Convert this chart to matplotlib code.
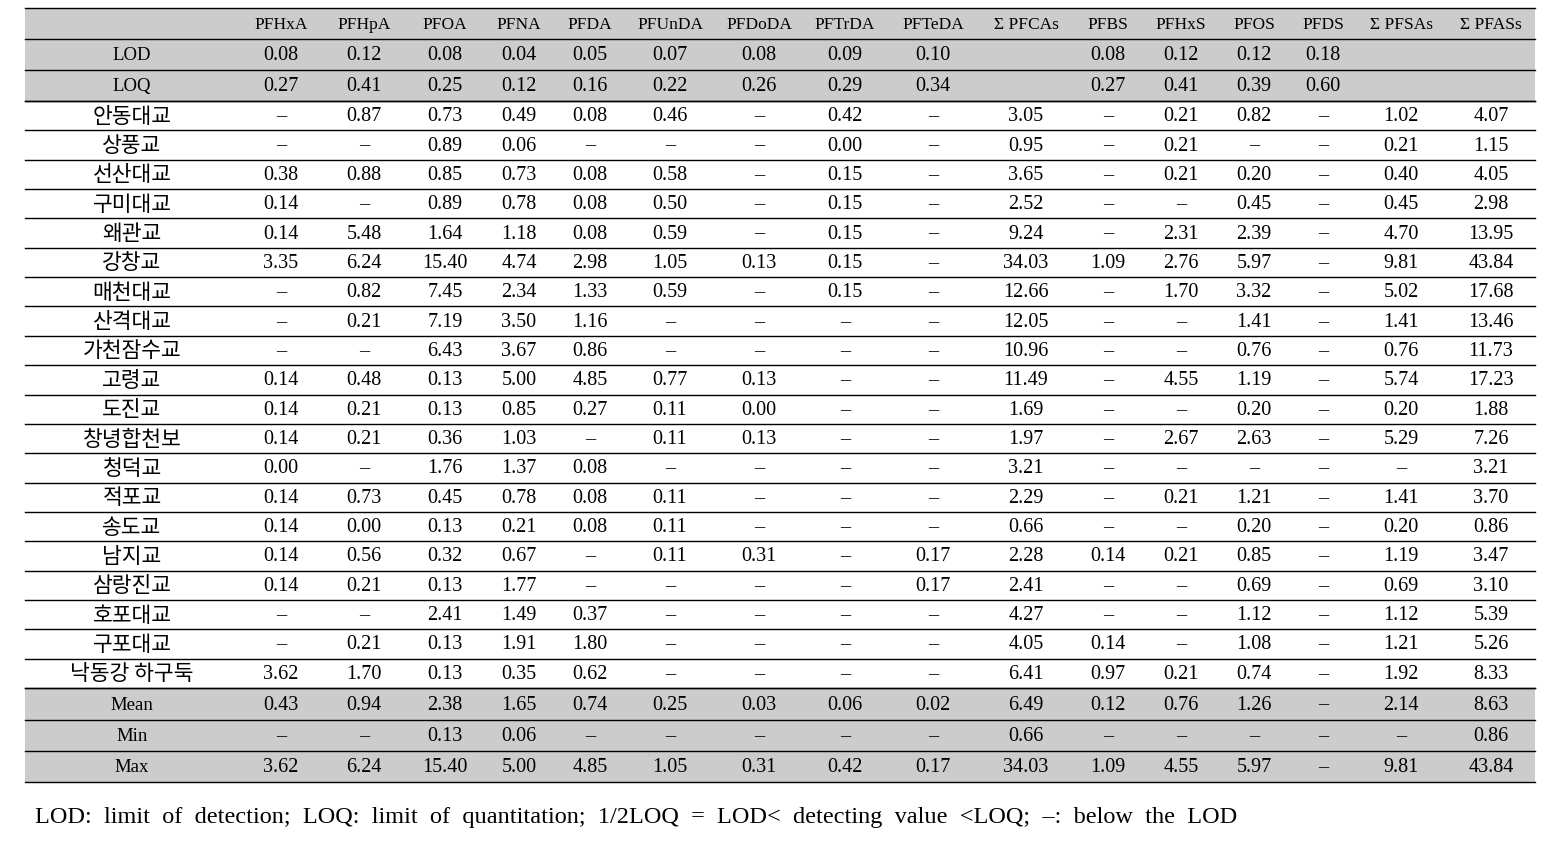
import matplotlib.pyplot as plt

# column headers and row labels
columns = ['PFHxA', 'PFHpA', 'PFOA', 'PFNA', 'PFDA', 'PFUnDA', 'PFDoDA', 'PFTrDA',
           'PFTeDA', 'Σ PFCAs', 'PFBS', 'PFHxS', 'PFOS', 'PFDS', 'Σ PFSAs', 'Σ PFASs']

lod = [0.08, 0.12, 0.08, 0.04, 0.05, 0.07, 0.08, 0.09, 0.10, '', 0.08, 0.12, 0.12, 0.18, '', '']
loq = [0.27, 0.41, 0.25, 0.12, 0.16, 0.22, 0.26, 0.29, 0.34, '', 0.27, 0.41, 0.39, 0.60, '', '']

sites = ['안동대교', '상풍교', '선산대교', '구미대교', '왜관교', '강창교', '매천대교', '산격대교',
         '가천잠수교', '고령교', '도진교', '창녕합천보', '청덕교', '적포교', '송도교', '남지교',
         '삼랑진교', '호포대교', '구포대교', '낙동강 하구둑']

# None = below the LOD
N = None
site_values = [
    [N, 0.87, 0.73, 0.49, 0.08, 0.46, N, 0.42, N, 3.05, N, 0.21, 0.82, N, 1.02, 4.07],
    [N, N, 0.89, 0.06, N, N, N, 0.00, N, 0.95, N, 0.21, N, N, 0.21, 1.15],
    [0.38, 0.88, 0.85, 0.73, 0.08, 0.58, N, 0.15, N, 3.65, N, 0.21, 0.20, N, 0.40, 4.05],
    [0.14, N, 0.89, 0.78, 0.08, 0.50, N, 0.15, N, 2.52, N, N, 0.45, N, 0.45, 2.98],
    [0.14, 5.48, 1.64, 1.18, 0.08, 0.59, N, 0.15, N, 9.24, N, 2.31, 2.39, N, 4.70, 13.95],
    [3.35, 6.24, 15.40, 4.74, 2.98, 1.05, 0.13, 0.15, N, 34.03, 1.09, 2.76, 5.97, N, 9.81, 43.84],
    [N, 0.82, 7.45, 2.34, 1.33, 0.59, N, 0.15, N, 12.66, N, 1.70, 3.32, N, 5.02, 17.68],
    [N, 0.21, 7.19, 3.50, 1.16, N, N, N, N, 12.05, N, N, 1.41, N, 1.41, 13.46],
    [N, N, 6.43, 3.67, 0.86, N, N, N, N, 10.96, N, N, 0.76, N, 0.76, 11.73],
    [0.14, 0.48, 0.13, 5.00, 4.85, 0.77, 0.13, N, N, 11.49, N, 4.55, 1.19, N, 5.74, 17.23],
    [0.14, 0.21, 0.13, 0.85, 0.27, 0.11, 0.00, N, N, 1.69, N, N, 0.20, N, 0.20, 1.88],
    [0.14, 0.21, 0.36, 1.03, N, 0.11, 0.13, N, N, 1.97, N, 2.67, 2.63, N, 5.29, 7.26],
    [0.00, N, 1.76, 1.37, 0.08, N, N, N, N, 3.21, N, N, N, N, N, 3.21],
    [0.14, 0.73, 0.45, 0.78, 0.08, 0.11, N, N, N, 2.29, N, 0.21, 1.21, N, 1.41, 3.70],
    [0.14, 0.00, 0.13, 0.21, 0.08, 0.11, N, N, N, 0.66, N, N, 0.20, N, 0.20, 0.86],
    [0.14, 0.56, 0.32, 0.67, N, 0.11, 0.31, N, 0.17, 2.28, 0.14, 0.21, 0.85, N, 1.19, 3.47],
    [0.14, 0.21, 0.13, 1.77, N, N, N, N, 0.17, 2.41, N, N, 0.69, N, 0.69, 3.10],
    [N, N, 2.41, 1.49, 0.37, N, N, N, N, 4.27, N, N, 1.12, N, 1.12, 5.39],
    [N, 0.21, 0.13, 1.91, 1.80, N, N, N, N, 4.05, 0.14, N, 1.08, N, 1.21, 5.26],
    [3.62, 1.70, 0.13, 0.35, 0.62, N, N, N, N, 6.41, 0.97, 0.21, 0.74, N, 1.92, 8.33],
]

mean_vals = [0.43, 0.94, 2.38, 1.65, 0.74, 0.25, 0.03, 0.06, 0.02, 6.49, 0.12, 0.76, 1.26, N, 2.14, 8.63]
min_vals = [N, N, 0.13, 0.06, N, N, N, N, N, 0.66, N, N, N, N, N, 0.86]
max_vals = [3.62, 6.24, 15.40, 5.00, 4.85, 1.05, 0.31, 0.42, 0.17, 34.03, 1.09, 4.55, 5.97, N, 9.81, 43.84]

caption = 'LOD:  limit  of  detection;  LOQ:  limit  of  quantitation;  1/2LOQ  =  LOD<  detecting  value  <LOQ;  –:  below  the  LOD'


def fmt(v):
    if v is None:
        return '–'
    if v == '':
        return ''
    return '%.2f' % v


serif = ['Liberation Serif', 'DejaVu Serif']
kr = ['Noto Sans CJK KR', 'DejaVu Sans']
grey = '#cccccc'
num_size = 14.5

fig = plt.figure(figsize=(15.5, 8.41), dpi=100)
ax = fig.add_axes([0, 0, 1, 1])
ax.set_xlim(0, 1550)
ax.set_ylim(841, 0)
ax.axis('off')

left, right = 25, 1535
label_x = 132
col_x = [281, 364, 445, 519, 590, 670, 759, 845, 933, 1026, 1108, 1181, 1254, 1323, 1401, 1491]

# row boundaries
top_edges = [8, 39, 70, 101]
data_h = (688 - 101) / len(sites)
data_edges = [101 + i * data_h for i in range(len(sites) + 1)]
bottom_edges = [688, 720, 751, 782]

# grey bands
for y0, y1 in [(8, 101), (688, 782)]:
    ax.fill_between([left, right], y0, y1, color=grey, lw=0, zorder=0)

for y in top_edges + data_edges + bottom_edges:
    ax.plot([left, right], [y, y], color='black', lw=1.0, zorder=2)

# header
hy = (top_edges[0] + top_edges[1]) / 2 + 1
for x, c in zip(col_x, columns):
    ax.text(x, hy, c, ha='center', va='center', family=serif, fontsize=12.5)

# LOD / LOQ rows
for i, (name, row) in enumerate([('LOD', lod), ('LOQ', loq)]):
    y = (top_edges[i + 1] + top_edges[i + 2]) / 2 + 1
    ax.text(label_x, y, name, ha='center', va='center', family=serif, fontsize=13.5)
    for x, v in zip(col_x, row):
        ax.text(x, y, fmt(v), ha='center', va='center', family=serif, fontsize=num_size)

# site rows
for i, (name, row) in enumerate(zip(sites, site_values)):
    y = (data_edges[i] + data_edges[i + 1]) / 2 + 1
    ax.text(label_x, y, name, ha='center', va='center', family=kr, fontsize=15.5)
    for x, v in zip(col_x, row):
        ax.text(x, y, fmt(v), ha='center', va='center', family=serif, fontsize=num_size)

# summary rows
for i, (name, row) in enumerate([('Mean', mean_vals), ('Min', min_vals), ('Max', max_vals)]):
    y = (bottom_edges[i] + bottom_edges[i + 1]) / 2 + 1
    ax.text(label_x, y, name, ha='center', va='center', family=serif, fontsize=13.5)
    for x, v in zip(col_x, row):
        ax.text(x, y, fmt(v), ha='center', va='center', family=serif, fontsize=num_size)

ax.text(35, 818, caption, ha='left', va='center', family=serif, fontsize=17.5)

fig.savefig('out.png', dpi=100)
